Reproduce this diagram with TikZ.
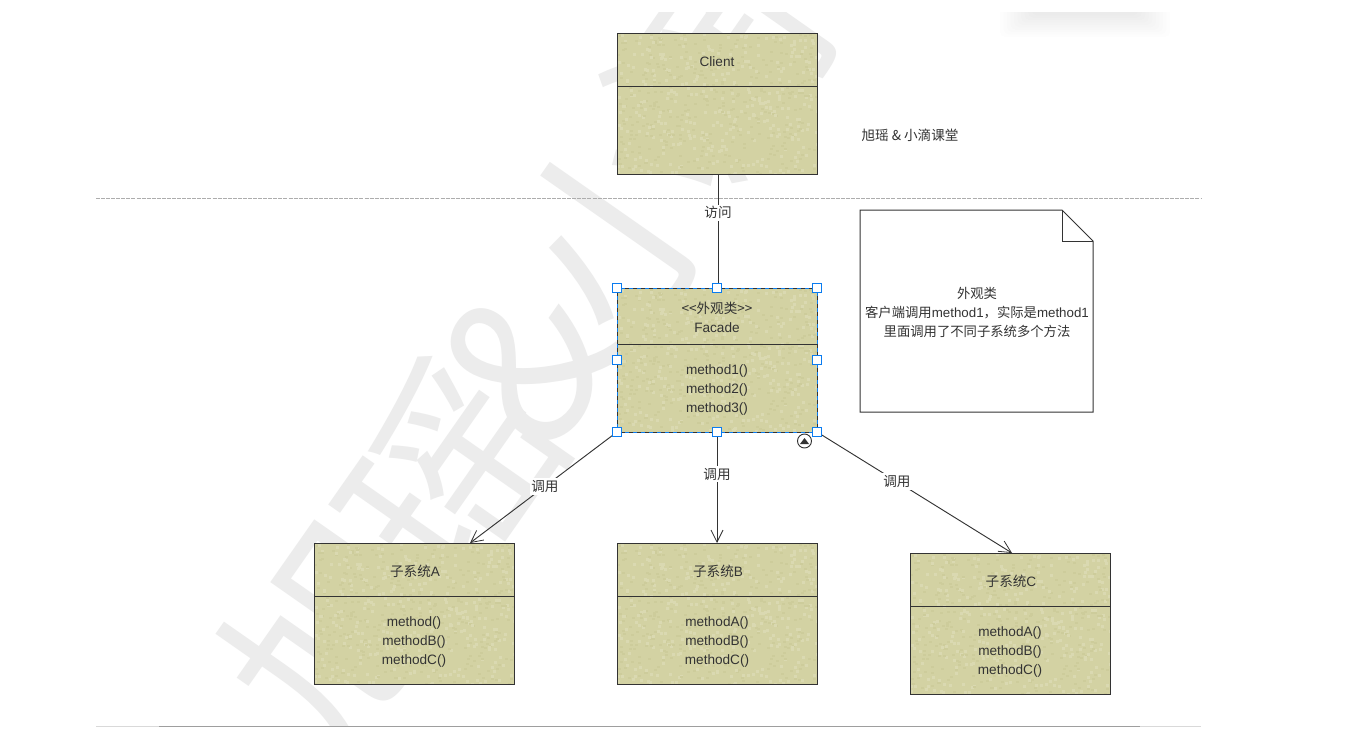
\documentclass[tikz,border=0pt]{standalone}
\usepackage{fontspec}
\setmainfont{Liberation Sans}
\newfontfamily\cjk{Noto Sans CJK SC}
\usetikzlibrary{arrows.meta,calc}
\definecolor{olive}{HTML}{D3D2A3}
\definecolor{olivehi}{HTML}{DAD9B1}
\definecolor{olivelo}{HTML}{CDCC9B}
\definecolor{ink}{HTML}{333333}
\definecolor{wm}{HTML}{ECECEC}
\definecolor{sel}{HTML}{0A7CF0}
\newcommand{\mottle}[1]{%
  \begin{scope}
    \clip (#1.north west) rectangle (#1.south east);
    \begin{scope}[shift={(#1.north west)}]
      \pgfmathsetseed{11}
      \foreach \i in {1,...,380}{
        \fill[olivehi] (rnd*205,rnd*150) rectangle +(3,3);
        \fill[olivelo] (rnd*205,rnd*150) rectangle +(3,2);
      }
    \end{scope}
  \end{scope}
  \draw[draw=ink,line width=0.75pt] (#1.north west) rectangle (#1.south east);
}
\tikzset{
  box/.style={draw=ink,line width=0.75pt,fill=olive,inner sep=0pt,outer sep=0pt,rectangle},
  sep/.style={draw=ink,line width=0.6pt},
  txt/.style={text=ink,font=\fontsize{10.2}{14.25}\selectfont,align=center,inner sep=0pt},
  ctxt/.style={text=ink,font=\cjk\fontsize{10.2}{14.25}\selectfont,align=center,inner sep=0pt},
  lab/.style={ctxt,fill=white,inner xsep=1pt,inner ysep=1.5pt},
  conn/.style={draw=ink,line width=0.7pt},
  call/.style={conn,-{Straight Barb[length=9pt,width=9pt,line width=0.6pt]}},
  grip/.style={draw=sel,fill=white,line width=1.1pt,minimum size=6.4pt,inner sep=0pt,outer sep=0pt,rectangle},
  wmglyph/.style={text=wm,rotate=55,inner sep=0pt,font=\cjk\fontsize{155}{155}\selectfont},
}
\begin{document}
\begin{tikzpicture}[x=0.75pt,y=-0.75pt]
\useasboundingbox (0,0) rectangle (1365,736);
\fill[white] (0,0) rectangle (1365,736);
% watermark
\begin{scope}
\clip (0,12) rectangle (1365,726);
\node[wmglyph] (w1) at (334,632) {旭};
\node[wmglyph] (w2) at (450,474) {瑶};
\node[wmglyph] (w3) at (527,360) {\&};
\node[wmglyph] (w4) at (622,224) {小};
\node[wmglyph] (w5) at (718,63) {滴};
\end{scope}
% soft shadow at the top
\foreach \i in {0,...,9}
  \fill[black,opacity=0.008,rounded corners=4pt] (1000+\i*3.5,6) rectangle (1170-\i*3.5,37-\i*2.4);
\fill[white] (990,0) rectangle (1180,12);
% page rules
\coordinate (ruleL) at (96,198); \coordinate (ruleR) at (1201,198);
\draw[black!32,line width=0.7pt,dash pattern=on 3pt off 0.8pt] (ruleL) -- (ruleR);
\coordinate (footL) at (96,726.5); \coordinate (footR) at (1201,726.5);
\coordinate (footA) at (159,726.5); \coordinate (footB) at (1140,726.5);
\draw[black!15,line width=1pt] (footL) -- (footR);
\draw[black!38,line width=1pt] (footA) -- (footB);
% boxes
\node[box,minimum width=150pt,minimum height=105.75pt] (client) at (717,103.5) {};
\mottle{client}
\draw[sep] (617,86) -- (817,86);
\node[txt] (clientT) at (717,61.5) {Client};
\node[box,minimum width=150pt,minimum height=108pt] (facade) at (717,360) {};
\mottle{facade}
\draw[sep] (617,344) -- (817,344);
\node[txt] (facadeT) at (717,317.5) {{\cjk <<外观类>>}\\Facade};
\node[txt] (facadeM) at (717,389.5) {method1()\\method2()\\method3()};
\node[box,minimum width=150pt,minimum height=105.75pt] (a) at (414,613.5) {};
\mottle{a}
\draw[sep] (314,596) -- (514,596);
\node[txt] (aT) at (415,571.5) {{\cjk 子系统}A};
\node[txt] (aM) at (414,641.5) {method()\\methodB()\\methodC()};
\node[box,minimum width=150pt,minimum height=105.75pt] (b) at (717,613.5) {};
\mottle{b}
\draw[sep] (617,596) -- (817,596);
\node[txt] (bT) at (718,571.5) {{\cjk 子系统}B};
\node[txt] (bM) at (717,641.5) {methodA()\\methodB()\\methodC()};
\node[box,minimum width=150pt,minimum height=105.75pt] (c) at (1010,623.5) {};
\mottle{c}
\draw[sep] (910,606) -- (1110,606);
\node[txt] (cT) at (1011,581.5) {{\cjk 子系统}C};
\node[txt] (cM) at (1010,651.5) {methodA()\\methodB()\\methodC()};
% note
\draw[draw=ink,line width=0.75pt,fill=white] (860,210) -- (1062,210) -- (1093,241) -- (1093,412) -- (860,412) -- cycle;
\draw[draw=ink,line width=0.75pt] (1062,210) -- (1062,241) -- (1093,241);
\node[ctxt,font=\cjk\fontsize{10}{14.25}\selectfont] (noteT) at (977,312.5) {外观类\\客户端调用{\rmfamily method1}，实际是{\rmfamily method1}\\里面调用了不同子系统多个方法};
\node[ctxt] (brand) at (910,135.5) {旭瑶 \& 小滴课堂};
% connectors
\coordinate (fTop) at (718,288); \coordinate (cBot) at (718,174);
\draw[conn] (cBot) -- (fTop) node[lab,pos=0.34] (l0) {访问};
\coordinate (aEnd) at (470,543); \coordinate (bEnd) at (717,543); \coordinate (cEnd) at (1012,553);
\draw[call] (facade.south west) -- (aEnd) node[lab,pos=0.49] (l1) {调用};
\draw[call] (facade.south) -- (bEnd) node[lab,pos=0.38] (l2) {调用};
\draw[call] (facade.south east) -- (cEnd) node[lab,pos=0.41] (l3) {调用};
% selection
\draw[sel,line width=0.75pt,dash pattern=on 3pt off 3pt] (facade.north west) rectangle (facade.south east);
\foreach \n/\p in {g1/north west,g2/north,g3/north east,g4/west,g5/east,g6/south west,g7/south,g8/south east}
  \node[grip] (\n) at (facade.\p) {};
\node[circle,draw=ink,fill=white,line width=0.7pt,minimum size=10.5pt,inner sep=0pt] (tog) at (804.5,441) {};
\fill[ink] (800,444) -- (809,444) -- (804.5,438) -- cycle;
\end{tikzpicture}
\end{document}
